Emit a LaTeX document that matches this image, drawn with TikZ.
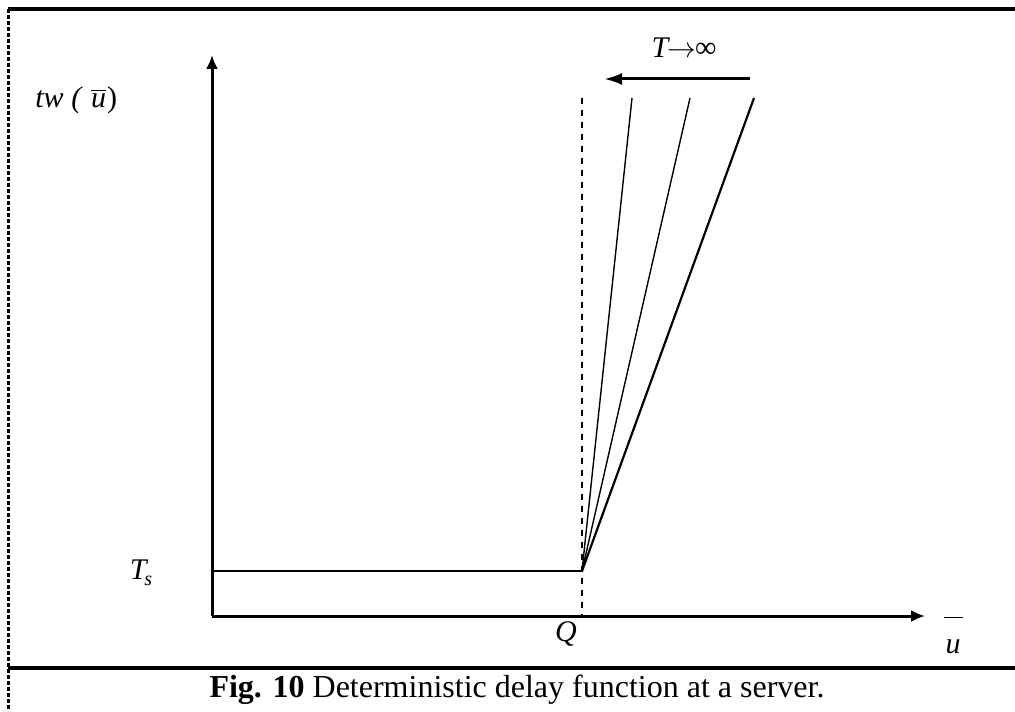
\documentclass[tikz,border=0pt]{standalone}
\usepackage{fontspec}
\setmainfont{Liberation Serif}
\usetikzlibrary{arrows.meta}

\begin{document}
\begin{tikzpicture}[x=0.5pt,y=-0.5pt,
  axis/.style={line width=1.5pt,-{Latex[length=7pt,width=6pt]}},
  slope/.style={line width=0.7pt},
  lbl/.style={font=\fontsize{15}{17}\selectfont\itshape,inner sep=0pt}]

% ---- layout parameters ----
\def\xO{212}      % origin x
\def\yO{616}      % origin y
\def\xQ{582}      % capacity Q
\def\yTs{571}     % service time level
\def\ytop{98}     % top of the slope lines

\useasboundingbox (0,0) rectangle (1015,711);

% Frame
\draw[line width=2pt] (8,9) -- (1015,9);
\draw[line width=1.5pt,dash pattern=on 2pt off 1pt] (8,9) -- (8,711);
\draw[line width=2pt] (8,668) -- (1015,668);

% Axes
\coordinate (O) at (\xO,\yO);
\coordinate (ytip) at (\xO,55);
\coordinate (xtip) at (925,\yO);
\draw[axis] (O) -- (ytip);
\draw[axis] (O) -- (xtip);

% Ts level and Q marker
\coordinate (Ts0) at (\xO,\yTs);
\coordinate (Qk) at (\xQ,\yTs);
\coordinate (Qtop) at (\xQ,\ytop);
\coordinate (Qbot) at (\xQ,\yO);
\draw[line width=1pt] (Ts0) -- (Qk);
\draw[line width=0.6pt,dashed] (Qtop) -- (Qbot);

% Delay lines for growing T
\coordinate (s1) at (632,\ytop);
\coordinate (s2) at (690,\ytop);
\coordinate (s3) at (754,\ytop);
\draw[slope] (Qk) -- (s1);
\draw[slope] (Qk) -- (s2);
\draw[slope,line width=1.1pt] (Qk) -- (s3);

% Direction of T
\coordinate (aR) at (750,79);
\coordinate (aL) at (604,79);
\draw[line width=1.5pt,-{Latex[length=9pt,width=6pt]}] (aR) -- (aL);
\node[lbl] (Tinf) at (684,48) {T\kern-0.5pt$\rightarrow$\kern-0.5pt\upshape∞};

% Labels
\node[lbl,anchor=west] (tw) at (35,100) {tw (\,\,$\overline{\mbox{\textit{u}}}$\kern0.5pt\upshape)};
\node[lbl] (Ts) at (141,573) {T\kern-1pt\raisebox{-3pt}{\fontsize{10}{11}\selectfont s}};
\node[lbl] (Q) at (566,634) {Q};
\node[lbl,anchor=base] (ubar) at (953,653) {$\overline{\rule{0pt}{1.1em}\kern1pt\mbox{\textit{u}}\kern1pt}$};

% Caption
\node[font=\fontsize{16}{19}\selectfont,inner sep=0pt] (cap) at (517,690)
  {\textbf{Fig. 10} Deterministic delay function at a server.};

\end{tikzpicture}
\end{document}
